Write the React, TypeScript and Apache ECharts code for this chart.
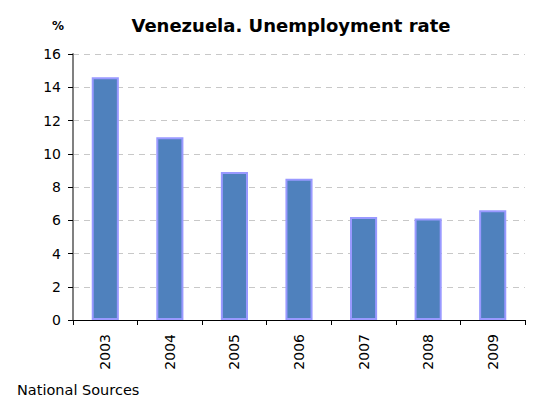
import React, { useEffect, useRef } from "react";
import * as echarts from "echarts";

const years = ["2003", "2004", "2005", "2006", "2007", "2008", "2009"];
const unemployment = [14.6, 11.0, 8.9, 8.5, 6.2, 6.1, 6.6];
const chartTitle = "Venezuela. Unemployment rate";
const unitLabel = "%";
const sourceNote = "National Sources";

export default function App() {
  const ref = useRef<HTMLDivElement>(null);
  useEffect(() => {
    if (!ref.current) return;
    const chart = echarts.init(ref.current, null, { renderer: "svg" });
    const font = "DejaVu Sans";
    chart.setOption({
      animation: false,
      backgroundColor: "#ffffff",
      textStyle: { fontFamily: font },
      title: [
        {
          text: chartTitle,
          left: 286,
          top: 11,
          textAlign: "center",
          textStyle: { fontFamily: font, fontWeight: "bold", fontSize: 18, color: "#000" },
        },
        {
          text: unitLabel,
          left: 47,
          top: 15,
          textStyle: { fontFamily: font, fontWeight: "bold", fontSize: 12, color: "#000" },
        },
        {
          text: sourceNote,
          left: 12,
          top: 377,
          textStyle: { fontFamily: font, fontWeight: "normal", fontSize: 14.5, color: "#000" },
        },
      ],
      grid: { left: 73, right: 9, top: 54, bottom: 77, containLabel: false },
      xAxis: {
        type: "category",
        data: years,
        axisLine: { lineStyle: { color: "#000", width: 1 } },
        axisTick: { show: true, length: 5, lineStyle: { color: "#000" }, alignWithLabel: false },
        axisLabel: { rotate: 90, margin: 14, fontSize: 14, color: "#000", fontFamily: font },
      },
      yAxis: {
        type: "value",
        min: 0,
        max: 16,
        interval: 2,
        axisLine: { show: true, lineStyle: { color: "#808080", width: 2 } },
        axisTick: { show: true, length: 5, lineStyle: { color: "#000" } },
        axisLabel: { margin: 12, fontSize: 14, color: "#000", fontFamily: font },
        splitLine: { show: true, lineStyle: { color: "#c8c8c8", type: [6, 5], width: 1 } },
      },
      series: [
        {
          type: "bar",
          data: unemployment,
          barWidth: "42%",
          itemStyle: { color: "#4f81bd", borderColor: "#9999ff", borderWidth: 2 },
        },
      ],
    });
    return () => chart.dispose();
  }, []);
  return (
    <div
      ref={ref}
      style={{ position: "fixed", left: 0, top: 0, width: 534, height: 397, background: "#fff" }}
    />
  );
}
